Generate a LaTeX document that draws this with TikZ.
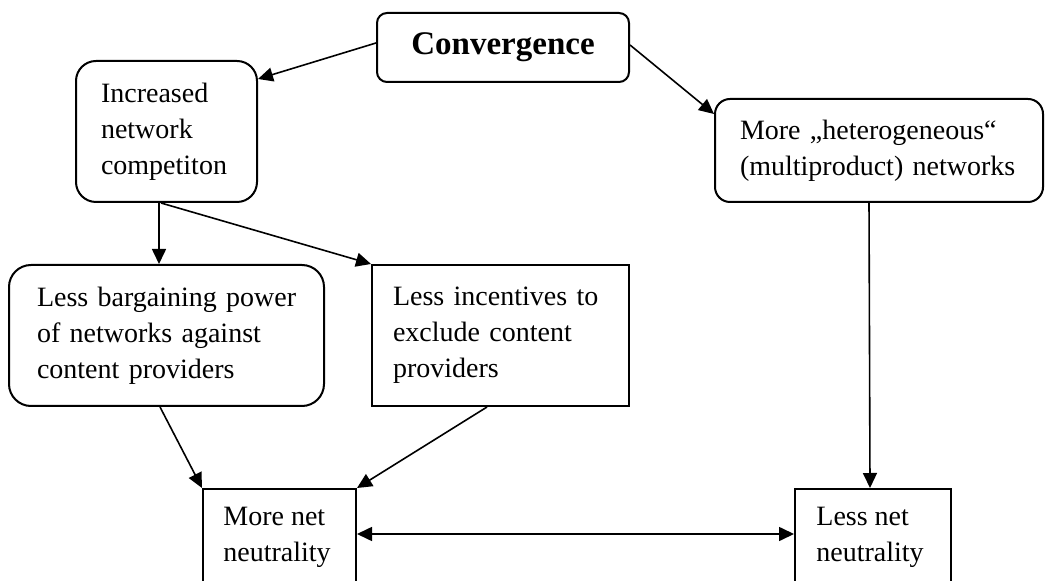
\documentclass[tikz,border=0pt]{standalone}
\usepackage{fontspec}
\setmainfont{Liberation Serif}
\usetikzlibrary{positioning, calc, arrows.meta}
\tikzset{
	roundbox/.style={draw, line width=1pt, rounded corners=#1, align=left, inner ysep=0pt}
}
\tikzset{
	squarebox/.style={draw, line width=1pt, align=left, inner ysep=0pt}
}
\tikzset{
	boxtext/.style={font=\fontsize{14}{18}\selectfont}
}
\tikzset{
	linkhead/.style={line width=0.8pt, -{Triangle[length=7.5pt, width=7pt]}},
	twohead/.style={line width=0.8pt, {Triangle[length=7.5pt, width=7pt]}-{Triangle[length=7.5pt, width=7pt]}}
}

\begin{document}
\begin{tikzpicture}[x=0.5pt, y=-0.5pt]

	\useasboundingbox (0,0) rectangle (1052,581);
	\clip (0,0) rectangle (1052,581);

	% top row
	\begin{scope}
		\node[roundbox=5pt, minimum width=126pt, minimum height=34.5pt, font=\fontsize{16.5}{19}\selectfont\bfseries] (conv) at (503,47.5) {Convergence};
		\node[roundbox=10pt, boxtext, text width=65.5pt, inner xsep=12.5pt, minimum height=70.5pt] (incr) at (166.5,131.5) {Increased\\network\\competiton};
		\node[roundbox=7.5pt, boxtext, text width=139pt, inner xsep=12.5pt, minimum height=51.5pt] (hetero) at (879,150.5) {\mbox{More „heterogeneous“}\\\mbox{(multiproduct) networks}};
	\end{scope}

	% middle row
	\begin{scope}
		\node[roundbox=11pt, boxtext, text width=129.5pt, inner xsep=14pt, minimum height=70.5pt] (barg) at (166.5,335.5) {\mbox{Less bargaining power}\\\mbox{of networks against}\\\mbox{content providers}};
		\node[squarebox, boxtext, text width=107.5pt, inner xsep=10.5pt, minimum height=70.5pt] (incent) at (500.5,335.5) {\mbox{Less incentives to}\\\mbox{exclude content}\\providers};
	\end{scope}

	% bottom row
	\begin{scope}
		\node[squarebox, anchor=north west, minimum width=76.5pt, minimum height=70pt] (morenet) at (202,488) {};
		\node[boxtext, align=left, anchor=north west, inner sep=0pt] (morenettext) at ([shift={(10.5pt,-9.5pt)}]morenet.north west) {More net\\neutrality};
		\node[squarebox, anchor=north west, minimum width=78pt, minimum height=70pt] (lessnet) at (794,488) {};
		\node[boxtext, align=left, anchor=north west, inner sep=0pt] (lessnettext) at ([shift={(11pt,-9.5pt)}]lessnet.north west) {Less net\\neutrality};
	\end{scope}

	% links
	\draw[linkhead] ([yshift=2.25pt]conv.west) -- ([yshift=-9.5pt]incr.north east);
	\draw[linkhead] ([yshift=1.25pt]conv.east) -- ([yshift=-8pt]hetero.north west);
	\draw[linkhead] ([xshift=-3.75pt]incr.south) -- ([xshift=-3.75pt]barg.north);
	\draw[linkhead] ([xshift=-2.75pt]incr.south) -- (incent.north west);
	\draw[linkhead] ([xshift=-3.25pt]barg.south) -- (morenet.north west);
	\draw[linkhead] ([xshift=-6.75pt]incent.south) -- (morenet.north east);
	\draw[linkhead] ([xshift=-5pt]hetero.south) -- ([xshift=-1.5pt]lessnet.north);
	\draw[twohead] ([yshift=-23pt]morenet.north east) -- ([yshift=-23pt]lessnet.north west);

\end{tikzpicture}
\end{document}
